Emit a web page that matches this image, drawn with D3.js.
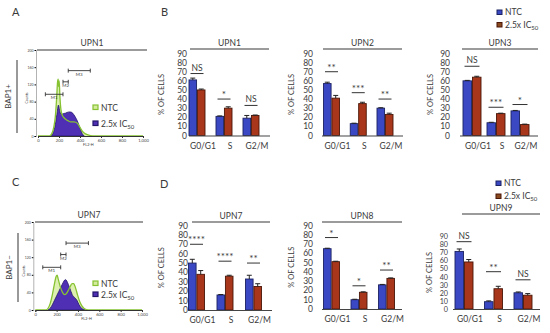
<!DOCTYPE html>
<html><head><meta charset="utf-8">
<script src="https://cdn.jsdelivr.net/npm/d3@7"></script>
<style>
body{margin:0;background:#fff}
svg{display:block}
text{font-family:Lato,"Open Sans","Liberation Sans",sans-serif}
</style>
</head><body>
<svg id="c" width="550" height="333"></svg>
<script>
// ---------------- DATA ----------------
const categories = ["G0/G1", "S", "G2/M"];
const seriesNames = ["NTC", "2.5x IC"];
const yTickValues = [0, 10, 20, 30, 40, 50, 60, 70, 80, 90];
const histXTicks = [0, 200, 400, 600, 800, 1000];
const histYTicks = [0, 40, 80, 120, 160, 200];

const upn1NTC = [61, 21, 19], upn1NTCerr = [2, 0.5, 3];
const upn1IC = [50, 30, 22], upn1ICerr = [1, 1.5, 0.5];
const upn1Sig = ["NS", "*", "NS"], upn1SigLevel = [68, 40, 33];

const upn2NTC = [57, 13, 30], upn2NTCerr = [1.5, 0.5, 0.5];
const upn2IC = [41, 35, 23], upn2ICerr = [3, 1.5, 1.5];
const upn2Sig = ["**", "***", "**"], upn2SigLevel = [70, 47, 40];

const upn3NTC = [60, 14, 27], upn3NTCerr = [0.5, 0.5, 0.5];
const upn3IC = [64, 24, 12], upn3ICerr = [1, 0.5, 0.5];
const upn3Sig = ["NS", "***", "*"], upn3SigLevel = [76, 31, 34];

const upn7NTC = [50, 16, 33], upn7NTCerr = [4, 0.5, 4];
const upn7IC = [38, 36, 25], upn7ICerr = [4, 1, 3];
const upn7Sig = ["****", "****", "**"], upn7SigLevel = [70, 52, 50];

const upn8NTC = [65, 10, 26], upn8NTCerr = [0.5, 0.5, 0.5];
const upn8IC = [51, 18, 33], upn8ICerr = [0.5, 0.5, 0.5];
const upn8Sig = ["*", "*", "**"], upn8SigLevel = [77, 25, 42];

const upn9NTC = [71, 9, 20], upn9NTCerr = [3, 1, 1];
const upn9IC = [58, 25, 17], upn9ICerr = [3, 3, 2];
const upn9Sig = ["NS", "**", "NS"], upn9SigLevel = [83, 46, 36];

// histogram curves (FL2-H value, counts)
const histA_ntcX = [0,110,130,150,165,178,186,192,197,202,208,218,232,250,270,290,310,340,360,380,400,420,440,470,500,540,1000];
const histA_ntcY = [0,0,5,20,45,90,125,132,115,128,95,62,48,42,38,35,33,33,32,28,20,12,7,3,1,0,0];
const histA_icX = [120,140,160,180,195,205,220,240,260,280,300,320,340,360,380,400,420,440];
const histA_icY = [0,5,20,50,72,60,50,52,53,55,56,55,50,42,32,18,6,0];
const histC_ntcX = [0,100,120,140,160,180,195,205,215,235,255,275,290,310,330,345,360,375,395,415,435,455,480,510,1000];
const histC_ntcY = [0,0,4,15,35,60,76,79,70,52,40,35,37,45,55,60,60,52,35,20,10,4,1,0,0];
const histC_icX = [120,140,160,180,200,220,240,260,275,285,295,310,330,350,370,390,410,430,450,470];
const histC_icY = [0,4,12,22,32,42,52,62,68,69,66,58,45,33,28,22,12,5,1,0];
const markerNames = ["M1", "M2", "M3"];
const markerStart = [70, 238, 288];
const markerEnd = [238, 288, 498];
const markerLevel = [97, 126, 152];

// ---------------- DRAW ----------------
const svg = d3.select("#c");
const BLUE = "#3b48c4", BLUE_S = "#1b2262", RED = "#a8361a", RED_S = "#4a1608";
const GREEN = "#86c232", GREEN_F = "#d4ec9c", PURP = "#4f2fb4", PURP_S = "#23166a";
const INK = "#3a3a3a";

function txt(sel, x, y, s, size, anchor) {
  return sel.append("text").attr("x", x).attr("y", y).attr("font-size", size)
    .attr("text-anchor", anchor || "start").attr("fill", INK).text(s);
}

txt(svg, 12, 16, "A", 11); txt(svg, 161, 16, "B", 11);
txt(svg, 12, 186, "C", 11); txt(svg, 160, 188, "D", 11);

function legend(x, y1, y2, c1, s1, c2, s2) {
  const g = svg.append("g");
  [[y1, c1, s1, false], [y2, c2, s2, true]].forEach(([y, c, s, sub], i) => {
    g.append("rect").attr("x", x).attr("y", y - 2.5).attr("width", 5).attr("height", 4.5)
      .attr("fill", c).attr("stroke", s).attr("stroke-width", 1);
    const t = txt(g, x + 8, y + 2.8, "", 8.5);
    t.append("tspan").text(seriesNames[i]);
    if (sub) t.append("tspan").attr("font-size", 6).attr("dy", 2).text("50");
  });
}

function barPanel(cfg) {
  const g = svg.append("g");
  const y = d3.scaleLinear().domain([0, 90]).range([cfg.y0, cfg.y90]);
  const xc = d3.scalePoint().domain(categories).range(cfg.c);
  const xs = d3.scaleBand().domain(seriesNames).range([-cfg.bw - 0.5, cfg.bw + 0.5]).paddingInner(0.1);
  g.append("line").attr("x1", cfg.line[0]).attr("x2", cfg.line[1]).attr("y1", cfg.line[2]).attr("y2", cfg.line[2])
    .attr("stroke", "#7a7a7a").attr("stroke-width", 1.6);
  txt(g, (cfg.line[0] + cfg.line[1]) / 2, cfg.line[2] - 3.5, cfg.title, 8.5, "middle");
  // y tick labels from the scale
  yTickValues.forEach(d => {
    g.append("text").attr("x", cfg.tickX).attr("y", y(d) + 3)
      .attr("text-anchor", "end").attr("font-size", cfg.tickFont || 8.5)
      .attr("fill", "#404040").text(String(d));
  });
  g.append("text").attr("transform", `translate(${cfg.ylabX},${(cfg.y0 + cfg.y90) / 2}) rotate(-90)`)
    .attr("text-anchor", "middle").attr("font-size", 7.5).attr("fill", INK).text("% OF CELLS");
  const rows = categories.map((c, i) => ({ c, v: [cfg.ntc[i], cfg.ic[i]], e: [cfg.ntcErr[i], cfg.icErr[i]] }));
  rows.forEach((r, i) => {
    seriesNames.forEach((s, j) => {
      const x = xc(r.c) + xs(s);
      g.append("rect").attr("x", x).attr("y", y(r.v[j])).attr("width", xs.bandwidth())
        .attr("height", cfg.y0 - y(r.v[j]))
        .attr("fill", j ? RED : BLUE).attr("stroke", j ? RED_S : BLUE_S).attr("stroke-width", 0.9);
      const cx = x + xs.bandwidth() / 2, ytop = y(r.v[j] + r.e[j]);
      g.append("line").attr("x1", cx).attr("x2", cx).attr("y1", y(r.v[j])).attr("y2", ytop).attr("stroke", "#222").attr("stroke-width", 1);
      g.append("line").attr("x1", cx - 2.5).attr("x2", cx + 2.5).attr("y1", ytop).attr("y2", ytop).attr("stroke", "#222").attr("stroke-width", 1);
    });
    const sy = y(cfg.sigLevel[i]);
    const x1 = xc(r.c) - cfg.bw + 1, x2 = xc(r.c) + cfg.bw - 1;
    g.append("line").attr("x1", x1).attr("x2", x2).attr("y1", sy).attr("y2", sy).attr("stroke", "#333").attr("stroke-width", 1);
    const ns = cfg.sig[i] === "NS";
    txt(g, xc(r.c), ns ? sy - 3 : sy - 1, cfg.sig[i], ns ? 8.5 : 10, "middle");
    txt(g, xc(r.c) + 6, cfg.y0 + 13, r.c, 8.5, "middle");
  });
  g.append("line").attr("x1", cfg.axis[0]).attr("x2", cfg.axis[1]).attr("y1", cfg.y0 + 0.5).attr("y2", cfg.y0 + 0.5)
    .attr("stroke", "#444").attr("stroke-width", 1.2);
}

const topRow = { y0: 135.5, y90: 53.5 };
barPanel({ title: "UPN1", ntc: upn1NTC, ntcErr: upn1NTCerr, ic: upn1IC, icErr: upn1ICerr, sig: upn1Sig, sigLevel: upn1SigLevel,
  c: [197, 251], bw: 7.5, axis: [189, 270], ...topRow, line: [190, 269, 49], tickX: 187, ylabX: 164 });
barPanel({ title: "UPN2", ntc: upn2NTC, ntcErr: upn2NTCerr, ic: upn2IC, icErr: upn2ICerr, sig: upn2Sig, sigLevel: upn2SigLevel,
  c: [331.5, 385], bw: 7.5, axis: [322, 403], ...topRow, line: [323, 402, 49], tickX: 313, ylabX: 294 });
barPanel({ title: "UPN3", ntc: upn3NTC, ntcErr: upn3NTCerr, ic: upn3IC, icErr: upn3ICerr, sig: upn3Sig, sigLevel: upn3SigLevel,
  c: [472, 520], bw: 8.5, axis: [460, 538], ...topRow, line: [462, 538, 49], tickX: 450, ylabX: 433 });
barPanel({ title: "UPN7", ntc: upn7NTC, ntcErr: upn7NTCerr, ic: upn7IC, icErr: upn7ICerr, sig: upn7Sig, sigLevel: upn7SigLevel,
  c: [196.5, 253.5], bw: 7.5, axis: [188, 272], y0: 310, y90: 225.5, line: [192, 270, 222], tickX: 188, ylabX: 164 });
barPanel({ title: "UPN8", ntc: upn8NTC, ntcErr: upn8NTCerr, ic: upn8IC, icErr: upn8ICerr, sig: upn8Sig, sigLevel: upn8SigLevel,
  c: [331.5, 386.5], bw: 7.5, axis: [322, 402], y0: 309, y90: 225.5, line: [322, 402, 222], tickX: 313, ylabX: 294 });
barPanel({ title: "UPN9", ntc: upn9NTC, ntcErr: upn9NTCerr, ic: upn9IC, icErr: upn9ICerr, sig: upn9Sig, sigLevel: upn9SigLevel,
  c: [464, 523], bw: 8.5, axis: [453, 540], y0: 309, y90: 236, line: [462, 540, 214], tickX: 448, ylabX: 432, tickFont: 7.2 });

legend(497, 12.5, 25, BLUE, BLUE_S, "#8a4a1e", RED_S);
legend(496, 183.5, 196.5, BLUE, BLUE_S, "#8a4a1e", RED_S);

function histPanel(cfg) {
  const g = svg.append("g");
  const x = d3.scaleLinear().domain([0, 1000]).range([cfg.xr[0], cfg.xr[1]]);
  const y = d3.scaleLinear().domain([0, 200]).range([cfg.y0, cfg.ytop]);
  g.append("line").attr("x1", cfg.line[0]).attr("x2", cfg.line[1]).attr("y1", cfg.line[2]).attr("y2", cfg.line[2])
    .attr("stroke", "#7a7a7a").attr("stroke-width", 1.6);
  txt(g, (cfg.line[0] + cfg.line[1]) / 2, cfg.line[2] - 4, cfg.title, 8.5, "middle");
  g.append("line").attr("x1", cfg.side[0]).attr("x2", cfg.side[0]).attr("y1", cfg.side[1]).attr("y2", cfg.side[2])
    .attr("stroke", "#555").attr("stroke-width", 1.2);
  g.append("text").attr("transform", `translate(${cfg.side[0] - 6},${(cfg.side[1] + cfg.side[2]) / 2}) rotate(-90)`)
    .attr("text-anchor", "middle").attr("font-size", 8).attr("fill", INK).text(cfg.sideLabel);
  const pts = (xs, ys) => xs.map((v, i) => [v, ys[i]]);
  const area = d3.area().x(d => x(d[0])).y0(y(0)).y1(d => y(d[1])).curve(d3.curveMonotoneX);
  const line = d3.line().x(d => x(d[0])).y(d => y(d[1])).curve(d3.curveMonotoneX);
  const ntc = pts(cfg.ntcX, cfg.ntcY), ic = pts(cfg.icX, cfg.icY);
  g.append("path").attr("d", area(ntc)).attr("fill", GREEN_F).attr("opacity", 0.8);
  g.append("path").attr("d", area(ic)).attr("fill", PURP).attr("stroke", PURP_S).attr("stroke-width", 0.8);
  g.append("path").attr("d", line(ntc)).attr("fill", "none").attr("stroke", GREEN).attr("stroke-width", 1.3);
  const xa = g.append("g").attr("transform", `translate(0,${cfg.y0})`)
    .call(d3.axisBottom(x).tickValues(histXTicks).tickSize(2).tickPadding(1));
  xa.select(".domain").attr("stroke", "#333");
  xa.selectAll("line").attr("stroke", "#333");
  xa.selectAll("text").attr("font-size", 4.2).attr("fill", "#444");
  const ya = g.append("g").attr("transform", `translate(${cfg.xr[0] - 2},0)`)
    .call(d3.axisLeft(y).tickValues(histYTicks).tickSize(1.5).tickPadding(1));
  ya.select(".domain").attr("stroke", "#666").attr("stroke-dasharray", "1,1");
  ya.selectAll("text").attr("font-size", 3.5).attr("fill", "#444");
  g.append("text").attr("transform", `translate(${cfg.xr[0] - 10},${(cfg.y0 + cfg.ytop) / 2 + 5}) rotate(-90)`)
    .attr("text-anchor", "middle").attr("font-size", 3.5).attr("fill", INK).text("Counts");
  txt(g, x(480), cfg.y0 + 10, "FL2-H", 3.8, "middle");
  markerNames.forEach((m, i) => {
    const yy = y(markerLevel[i]), a = x(markerStart[i]), b = x(markerEnd[i]);
    g.append("line").attr("x1", a).attr("x2", b).attr("y1", yy).attr("y2", yy).attr("stroke", "#333").attr("stroke-width", 0.9);
    [a, b].forEach(v => g.append("line").attr("x1", v).attr("x2", v).attr("y1", yy - 2).attr("y2", yy + 2).attr("stroke", "#333").attr("stroke-width", 0.9));
    txt(g, (a + b) / 2, yy + 5, m, 4.5, "middle");
  });
  const lg = [[cfg.leg[1], GREEN_F, GREEN, 0], [cfg.leg[2], PURP, PURP_S, 1]];
  lg.forEach(([yy, f, s, i]) => {
    g.append("rect").attr("x", cfg.leg[0]).attr("y", yy - 2.5).attr("width", 5).attr("height", 4.5)
      .attr("fill", f).attr("stroke", s).attr("stroke-width", 1.2);
    const t = txt(g, cfg.leg[0] + 8, yy + 3, "", 8.5);
    t.append("tspan").text(seriesNames[i]);
    if (i) t.append("tspan").attr("font-size", 6).attr("dy", 2).text("50");
  });
}

histPanel({ title: "UPN1", xr: [38, 143], y0: 136, ytop: 50, line: [37, 147, 50], side: [17, 60, 133], sideLabel: "BAP1+",
  ntcX: histA_ntcX, ntcY: histA_ntcY, icX: histA_icX, icY: histA_icY, leg: [93, 107.5, 123.5] });
histPanel({ title: "UPN7", xr: [35.3, 142], y0: 310, ytop: 222, line: [35, 143, 222], side: [18, 233, 302], sideLabel: "BAP1\u2212",
  ntcX: histC_ntcX, ntcY: histC_ntcY, icX: histC_icX, icY: histC_icY, leg: [93, 283.5, 294.5] });
</script>
</body></html>
